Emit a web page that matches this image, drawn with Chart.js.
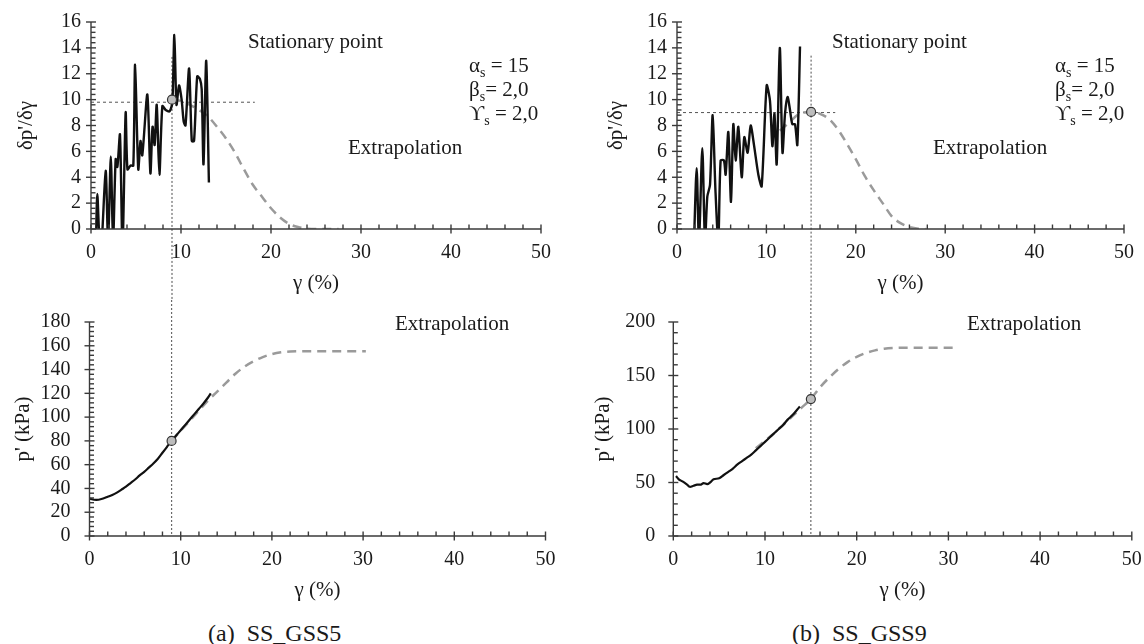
<!DOCTYPE html>
<html>
<head>
<meta charset="utf-8">
<script src="https://cdn.jsdelivr.net/npm/chart.js@4.4.0/dist/chart.umd.min.js"></script>
<style>
  html, body { margin: 0; padding: 0; background: #fff; }
  #wrap { position: relative; width: 1144px; height: 644px; overflow: hidden; font-family: "Liberation Serif", "DejaVu Serif", serif; color: #1a1a1a; }
  canvas { position: absolute; }
  .t { position: absolute; font-size: 21px; line-height: 21px; white-space: nowrap; transform: translateY(-50%); }
  .t sub { font-size: 14px; vertical-align: -5px; line-height: 0; }
  .cap { position: absolute; font-size: 24px; line-height: 24px; white-space: nowrap; transform: translateY(-50%); }
</style>
</head>
<body>
<div id="wrap">
  <canvas id="ta" width="572" height="300" style="left:0;top:0"></canvas>
  <canvas id="tb" width="572" height="300" style="left:572px;top:0"></canvas>
  <canvas id="ba" width="572" height="310" style="left:0;top:300px"></canvas>
  <canvas id="bb" width="572" height="310" style="left:572px;top:300px"></canvas>

  <div class="t" style="left:248px;top:41px">Stationary point</div>
  <div class="t" style="left:469px;top:65px">α<sub>s</sub> = 15</div>
  <div class="t" style="left:469px;top:89px">β<sub>s</sub>= 2,0</div>
  <div class="t" style="left:469px;top:113px">ϒ<sub>s</sub> = 2,0</div>
  <div class="t" style="left:348px;top:147px">Extrapolation</div>

  <div class="t" style="left:832px;top:41px">Stationary point</div>
  <div class="t" style="left:1055px;top:65px">α<sub>s</sub> = 15</div>
  <div class="t" style="left:1055px;top:89px">β<sub>s</sub>= 2,0</div>
  <div class="t" style="left:1055px;top:113px">ϒ<sub>s</sub> = 2,0</div>
  <div class="t" style="left:933px;top:147px">Extrapolation</div>

  <div class="t" style="left:395px;top:323px">Extrapolation</div>
  <div class="t" style="left:967px;top:323px">Extrapolation</div>

  <div class="cap" style="left:208px;top:633px">(a)&nbsp; SS_GSS5</div>
  <div class="cap" style="left:792px;top:633px">(b)&nbsp; SS_GSS9</div>
</div>
<script>
// ---------- (a) SS_GSS5 ----------
const aDerivGamma = [0.55,0.7,0.95,1.15,1.63,1.9,2.2,2.45,2.74,2.93,3.22,3.5,3.85,4.05,4.4,4.7,4.9,5.25,5.5,5.7,6.26,6.6,6.84,7.07,7.3,7.6,7.93,8.3,8.74,9.04,9.26,9.5,9.78,10.07,10.3,10.5,10.9,11.2,11.45,11.8,12.1,12.3,12.5,12.8,13.1];
const aDerivValue = [-1,2.7,-1,-1.5,4.5,-1,5.6,-1,5.4,4.8,7.3,-1.5,9.0,4.6,4.9,4.9,12.7,4.6,6.8,5.7,10.4,4.3,7.9,6.5,9.6,4.2,9.5,9.2,9.1,9.8,15.0,9.6,11.1,10.0,8.3,8.0,12.4,6.8,6.8,11.8,11.6,10.8,5.0,13.0,3.6];
const aDerivExtGamma = [9,10,11,12,13,14,15,16,17,18,19,20,21,22,23,24,25,27.5];
const aDerivExtValue = [10,9.9,9.6,9.2,8.7,7.9,7.0,5.9,4.6,3.4,2.5,1.6,0.9,0.4,0.15,0.03,0,0];
const aPGamma = [0,0.5,1,1.5,2,2.5,3,3.5,4,4.5,5,5.5,6,6.5,7,7.5,8,8.5,9,9.5,10,10.5,11,11.5,12,12.5,13,13.3];
const aPValue = [31.5,30.5,30.5,31.5,33,34.5,36.5,39,41.5,44.5,47.5,51,54,57.5,61,65,70,75,80,84.5,89,93.5,98,102.5,107,111.5,116.5,120];
const aPExtGamma = [9,10,11,12,13,14,15,16,17,18,19,20,21,22,24,30.3];
const aPExtValue = [80,88.5,97,105.5,114,121.5,129,136.5,142.5,147,150.5,153,154.5,155.2,155.5,155.5];
const aStatGamma = [9];
const aStatDeriv = [10];
const aStatP = [80];
const aRefLevel = [9.8];
const aRefEnd = [18.2];
const aGuideTop = [13.3];

// ---------- (b) SS_GSS9 ----------
const bDerivGamma = [1.9,2.2,2.46,2.83,3.13,3.39,3.69,3.99,4.3,4.62,4.88,5.25,5.44,5.74,6.04,6.3,6.56,6.86,7.24,7.53,7.9,8.24,8.61,9.1,9.47,10.03,10.4,10.67,10.9,11.15,11.5,11.8,12.08,12.37,12.64,12.9,13.2,13.46,13.76];
const bDerivValue = [-1,4.7,-1,6.25,-1,2.5,3.4,8.8,3,-1,5.3,5.3,4.2,7.5,2.1,8.1,5.3,7.9,4.0,7.1,5.9,8.0,6.5,4.2,3.3,11.1,9.9,6.4,8.9,5.0,14.0,5.9,8.9,10.2,9.2,8.1,8.1,6.5,14.1];
const bDerivExtGamma = [11.5,12.5,13.8,15,16,17,18,19,20,21,22,23,24,25,26,27,27.8];
const bDerivExtValue = [7.6,8.2,8.95,9.05,8.9,8.5,7.7,6.6,5.4,4.1,3.0,2.0,1.0,0.45,0.15,0.02,0];
const bPGamma = [0.3,0.6,1,1.5,1.8,2.2,2.6,3,3.3,3.7,4,4.4,5,5.5,6,6.5,7,7.5,8,8.5,9,9.5,10,10.5,11,11.5,12,12.5,13,13.5,13.8];
const bPValue = [56,53,51,48,46,47,48,48,49.5,48.5,50,53,54,57,60,63,67,70,73,76,80,84,88,92,96,100,104,109,113,118,121];
const bPExtGamma = [9,10,11,12,13,14,15,16,17,18,19,20,21,22,23,24,26,30.5];
const bPExtValue = [82,89,96,104,112,120,128,139,148,156,162.5,167.5,171,173.5,175,175.7,176,176];
const bStatGamma = [15];
const bStatDeriv = [9.05];
const bStatP = [128];
const bRefLevel = [9.0];
const bRefEnd = [17.7];
const bGuideTop = [13.4];

// tick labels
const xTickStep = 10, xMinorStep = 2;
const yDerivMax = 16, yDerivStep = 2, yDerivMinor = 0.4;
const yPaMax = 180, yPaStep = 20, yPaMinor = 4;
const yPbMax = 200, yPbStep = 50, yPbMinor = 10;

const FONT = "'Liberation Serif','DejaVu Serif',serif";
const INK = '#1a1a1a';
const pts = (xs, ys) => xs.map((x, i) => ({x, y: ys[i]}));

const axisMarks = {
  id: 'axisMarks',
  beforeDatasetsDraw(chart, args, o) {
    const {ctx, scales: {x, y}} = chart;
    if (o.guideX == null) return;
    const px = x.getPixelForValue(o.guideX);
    let y1, y2;
    if (o.guideFromTop) { y1 = 0; y2 = y.getPixelForValue(0); }
    else { y1 = y.getPixelForValue(o.guideTop); y2 = chart.height; }
    ctx.save();
    ctx.setLineDash([2, 2]);
    ctx.strokeStyle = '#6a6a6a';
    ctx.lineWidth = 1.2;
    ctx.beginPath(); ctx.moveTo(px, y1); ctx.lineTo(px, y2); ctx.stroke();
    ctx.restore();
  },
  afterDatasetsDraw(chart, args, o) {
    const {ctx, chartArea: a, scales: {x, y}} = chart;
    ctx.save();
    ctx.setLineDash([]);
    ctx.strokeStyle = '#3a3a3a';
    ctx.lineWidth = 1.4;
    const ln = (x1, y1, x2, y2) => { ctx.beginPath(); ctx.moveTo(x1, y1); ctx.lineTo(x2, y2); ctx.stroke(); };
    ln(a.left, a.bottom, a.right, a.bottom);
    ln(a.left, a.top, a.left, a.bottom);
    const nx = Math.round((x.max - x.min) / o.xMinor);
    for (let i = 0; i <= nx; i++) {
      const v = x.min + i * o.xMinor;
      const p = x.getPixelForValue(v);
      const major = Math.abs(v / o.xMajor - Math.round(v / o.xMajor)) < 1e-6;
      if (major) ln(p, a.bottom - 4.5, p, a.bottom + 4.5); else ln(p, a.bottom - 4.5, p, a.bottom);
    }
    const ny = Math.round((y.max - y.min) / o.yMinor);
    for (let i = 0; i <= ny; i++) {
      const v = y.min + i * o.yMinor;
      const p = y.getPixelForValue(v);
      const major = Math.abs(v / o.yMajor - Math.round(v / o.yMajor)) < 1e-6;
      if (major) ln(a.left - 5, p, a.left + 5, p); else ln(a.left, p, a.left + 4.5, p);
    }
    ctx.restore();
  }
};

function makeChart(id, cfg) {
  const datasets = [
    { data: pts(cfg.statX, cfg.statY), showLine: false, pointRadius: 4.5, pointBackgroundColor: '#bdbdbd', pointBorderColor: '#333', pointBorderWidth: 1.2, order: 0 },
    { data: pts(cfg.mainX, cfg.mainY), borderColor: '#111', borderWidth: cfg.mainWidth, pointRadius: 0, tension: cfg.tension, order: 1 },
    { data: pts(cfg.extX, cfg.extY), borderColor: '#9a9a9a', borderWidth: 2.5, borderDash: [9, 6], pointRadius: 0, tension: 0.4, cubicInterpolationMode: 'monotone', order: 2 }
  ];
  if (cfg.refLevel != null) {
    datasets.push({ data: [{x: 0, y: cfg.refLevel}, {x: cfg.refEnd, y: cfg.refLevel}], borderColor: '#555', borderWidth: 1, borderDash: [3, 3], pointRadius: 0, order: 3 });
  }
  return new Chart(document.getElementById(id), {
    type: 'line',
    data: { datasets },
    plugins: [axisMarks],
    options: {
      responsive: false, animation: false, events: [],
      layout: { padding: { left: 0, right: cfg.padRight, top: 22, bottom: 0 } },
      plugins: {
        legend: { display: false }, tooltip: { enabled: false },
        axisMarks: { xMajor: xTickStep, xMinor: xMinorStep, yMajor: cfg.yStep, yMinor: cfg.yMinor, guideX: cfg.guideX, guideTop: cfg.guideTop, guideFromTop: cfg.guideFromTop }
      },
      scales: {
        x: {
          type: 'linear', min: 0, max: 50,
          ticks: { stepSize: xTickStep, color: INK, font: { family: FONT, size: 20 }, padding: 12, maxRotation: 0, autoSkip: false },
          grid: { display: false, drawTicks: false }, border: { display: false },
          title: { display: true, text: 'γ (%)', color: INK, font: { family: FONT, size: 21 }, padding: { top: 0, bottom: cfg.xTitlePad } },
          afterFit(s) { s.height = cfg.xHeight; s.paddingLeft = 0; s.paddingRight = 0; }
        },
        y: {
          type: 'linear', min: 0, max: cfg.yMax,
          ticks: { stepSize: cfg.yStep, color: INK, font: { family: FONT, size: 20 }, padding: cfg.yLabelPad, autoSkip: false },
          grid: { display: false, drawTicks: false }, border: { display: false },
          title: { display: true, text: cfg.yTitle, color: INK, font: { family: FONT, size: 21 }, padding: { top: cfg.yTitlePad, bottom: 0 } },
          afterFit(s) { s.width = cfg.yWidth; s.paddingTop = 0; s.paddingBottom = 0; }
        }
      }
    }
  });
}

makeChart('ta', {
  mainX: aDerivGamma, mainY: aDerivValue, mainWidth: 2.4, tension: 0.25,
  extX: aDerivExtGamma, extY: aDerivExtValue, statX: aStatGamma, statY: aStatDeriv,
  refLevel: aRefLevel[0], refEnd: aRefEnd[0],
  guideX: aStatGamma[0], guideTop: aGuideTop[0], guideFromTop: false,
  yMax: yDerivMax, yStep: yDerivStep, yMinor: yDerivMinor, yTitle: "δp'/δγ",
  yWidth: 91, padRight: 31, xHeight: 71, xTitlePad: 4, yTitlePad: 14, yLabelPad: 10
});
makeChart('tb', {
  mainX: bDerivGamma, mainY: bDerivValue, mainWidth: 2.4, tension: 0.25,
  extX: bDerivExtGamma, extY: bDerivExtValue, statX: bStatGamma, statY: bStatDeriv,
  refLevel: bRefLevel[0], refEnd: bRefEnd[0],
  guideX: bStatGamma[0], guideTop: bGuideTop[0], guideFromTop: false,
  yMax: yDerivMax, yStep: yDerivStep, yMinor: yDerivMinor, yTitle: "δp'/δγ",
  yWidth: 105, padRight: 20, xHeight: 71, xTitlePad: 4, yTitlePad: 32, yLabelPad: 10
});
makeChart('ba', {
  mainX: aPGamma, mainY: aPValue, mainWidth: 2.2, tension: 0.3,
  extX: aPExtGamma, extY: aPExtValue, statX: aStatGamma, statY: aStatP,
  refLevel: null,
  guideX: aStatGamma[0], guideFromTop: true,
  yMax: yPaMax, yStep: yPaStep, yMinor: yPaMinor, yTitle: "p' (kPa)",
  yWidth: 89.5, padRight: 26.5, xHeight: 74, xTitlePad: 7, yTitlePad: 11, yLabelPad: 19
});
makeChart('bb', {
  mainX: bPGamma, mainY: bPValue, mainWidth: 2.2, tension: 0.3,
  extX: bPExtGamma, extY: bPExtValue, statX: bStatGamma, statY: bStatP,
  refLevel: null,
  guideX: bStatGamma[0], guideFromTop: true,
  yMax: yPbMax, yStep: yPbStep, yMinor: yPbMinor, yTitle: "p' (kPa)",
  yWidth: 101.3, padRight: 12.2, xHeight: 74, xTitlePad: 7, yTitlePad: 19, yLabelPad: 18
});
</script>
</body>
</html>
